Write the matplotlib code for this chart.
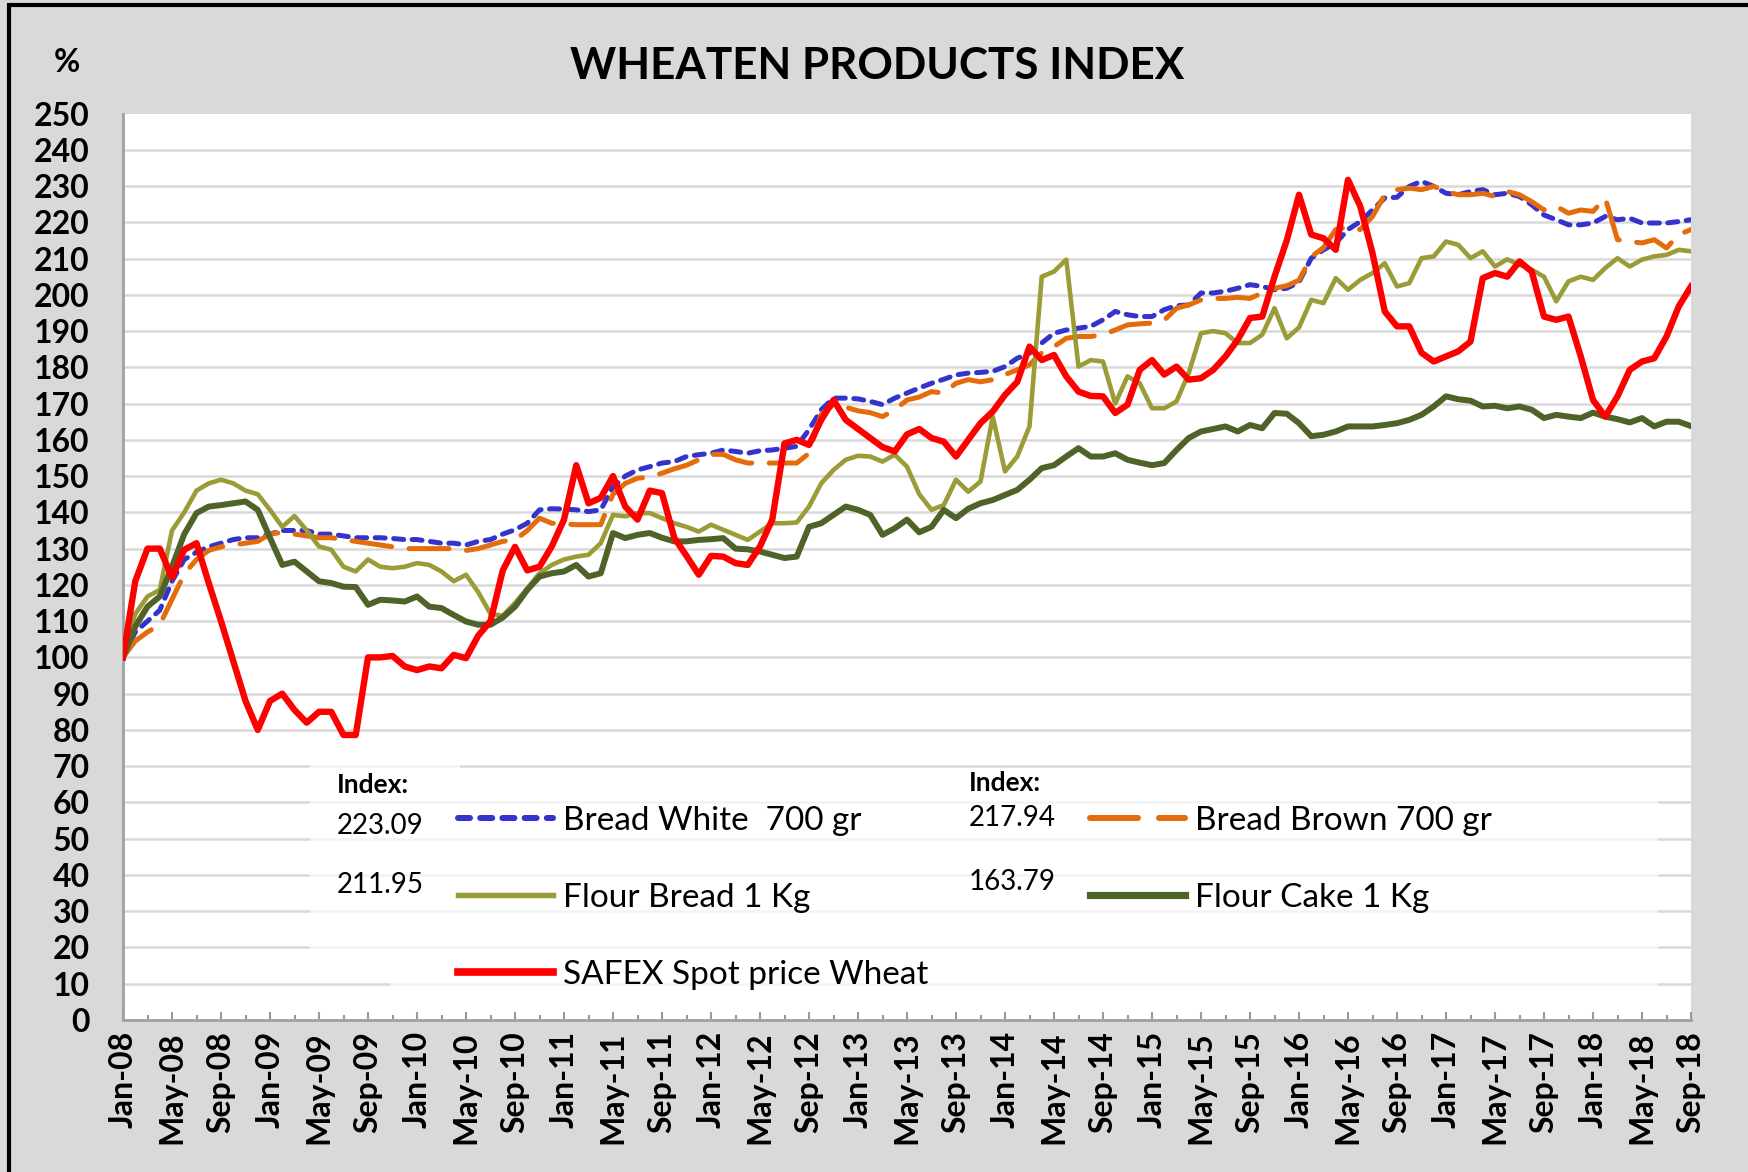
import matplotlib
matplotlib.use('Agg')
import matplotlib.pyplot as plt
from matplotlib.patches import Rectangle
import numpy as np
import pandas as pd

plt.rcParams['font.family'] = ['Lato', 'DejaVu Sans']

# Monthly index, Jan-08 = 100
months = pd.date_range('2008-01-01', '2018-09-01', freq='MS')
month_labels = [d.strftime('%b-%y') for d in months]

bread_white = [
    100, 107, 110, 113, 121, 127, 129, 130.5, 131.5, 132.5, 133, 133,
    134, 135, 135, 135, 134, 134, 133.5, 133, 133, 133, 132.8, 132.5,
    132.5, 132, 131.5, 131.5, 131, 132, 132.5, 134, 135.2, 137, 140.7, 141,
    140.9, 140.7, 140.2, 140.7, 147, 150, 151.7, 152.6, 153.6, 154, 155.4, 155.9,
    156.3, 157.2, 156.8, 156.3, 157, 157.2, 157.7, 158.2, 162.8, 168.3, 171.5, 171.5,
    171.3, 170.6, 169.7, 171.5, 172.9, 174.3, 175.6, 176.7, 177.9, 178.4, 178.6, 178.9,
    180.2, 182.5, 183.9, 186.7, 189.4, 190.3, 190.8, 191.3, 193.1, 195.4, 194.5, 194,
    194, 195.9, 197, 197.2, 200.5, 200.5, 201, 201.8, 202.8, 202.3, 201.4, 201.8,
    203.5, 210.1, 212.4, 214.3, 218, 220.2, 223.4, 226.7, 226.9, 229.9, 231.3, 229.9,
    228, 227.6, 228.5, 229, 227.6, 228, 227.1, 224.8, 222, 220.7, 219.3, 219.3,
    219.8, 221.6, 220.7, 221.1, 219.8, 219.8, 219.8, 220.2, 220.7,
]
bread_brown = [
    100, 104.5, 107, 109, 116, 123, 127, 129.5, 130.5, 131, 131.5, 132,
    134, 134.5, 134, 133.5, 133, 133, 132.5, 132, 131.5, 131, 130.5, 130,
    130, 130, 130, 130, 129.5, 130, 131, 132, 132.4, 135, 138.4, 137,
    136.8, 136.6, 136.6, 136.6, 145, 148, 149.4, 149.8, 150.8, 152, 153, 154.5,
    156, 156, 154.5, 153.6, 153.6, 153.6, 153.6, 153.6, 156.3, 167, 169.7, 169,
    168, 167.5, 166.4, 168.3, 171, 171.8, 173.3, 172.9, 175.6, 176.6, 176, 176.6,
    178, 179.3, 180.7, 184, 185.7, 188, 188.5, 188.5, 189, 190.3, 191.7, 192,
    192.2, 193, 196.3, 197.2, 198.6, 199, 199, 199.3, 199, 200.5, 201.8, 202.5,
    204, 210.5, 213, 218, 218.7, 218, 221.6, 227.6, 229, 229.4, 229, 229.9,
    228.5, 227.6, 227.6, 228, 227.1, 228.5, 227.6, 225.7, 223.4, 224.4, 222.5, 223.4,
    223, 226.7, 215.2, 214.7, 214.3, 215.2, 212.9, 216.6, 218,
]
flour_bread = [
    100, 112, 116.8, 118.6, 135, 140, 146, 148, 149, 148, 146, 145,
    140.7, 136, 139, 135, 130.6, 129.7, 125, 123.7, 127, 125, 124.6, 125,
    126, 125.5, 123.7, 121, 122.8, 118, 112, 111.5, 115, 119, 123.2, 125.5,
    127, 127.8, 128.3, 131.5, 139.3, 138.9, 139.8, 139.8, 138.4, 137, 136, 134.7,
    136.6, 135.2, 133.8, 132.4, 134.7, 137, 137, 137.2, 141.6, 148, 151.7, 154.5,
    155.6, 155.4, 154, 155.9, 152.6, 145, 140.7, 142, 149, 145.7, 148.5, 166.4,
    151.3, 155.4, 163.7, 205, 206.4, 209.7, 180.2, 182, 181.6, 170, 177.5, 175.6,
    168.7, 168.7, 170.6, 178.4, 189.4, 190, 189.4, 186.7, 186.7, 189, 196.3, 188,
    191, 198.6, 197.7, 204.6, 201.4, 204.1, 206, 208.7, 202.3, 203.2, 210.1, 210.6,
    214.7, 213.8, 210.1, 212, 207.8, 209.8, 208.3, 206.9, 205, 198.2, 203.7, 205,
    204.1, 207.4, 210.1, 207.8, 209.7, 210.6, 211, 212.4, 212,
]
flour_cake = [
    100, 108.5, 114, 116.8, 125, 134, 139.8, 141.6, 142, 142.5, 143, 140.7,
    133, 125.5, 126.4, 123.7, 121, 120.5, 119.5, 119.4, 114.5, 115.9, 115.7, 115.4,
    116.8, 114, 113.6, 111.7, 109.9, 109, 109, 111, 114, 118.6, 122.3, 123.2,
    123.7, 125.5, 122.3, 123.2, 134.3, 132.9, 133.8, 134.3, 133, 132, 132, 132.4,
    132.6, 132.9, 130, 129.8, 129.2, 128.3, 127.4, 127.8, 136, 137, 139.3, 141.6,
    140.7, 139.3, 133.8, 135.6, 138, 134.5, 136, 140.7, 138.4, 141, 142.5, 143.4,
    144.8, 146.2, 149, 152.2, 153, 155.4, 157.7, 155.4, 155.4, 156.3, 154.5, 153.7,
    153, 153.6, 157.2, 160.5, 162.3, 163, 163.7, 162.3, 164.1, 163.2, 167.4, 167.2,
    164.6, 161, 161.4, 162.3, 163.7, 163.7, 163.7, 164.1, 164.6, 165.5, 166.9, 169.2,
    172, 171.2, 170.8, 169.2, 169.4, 168.7, 169.2, 168.3, 166, 166.9, 166.4, 166,
    167.5, 166.4, 165.7, 164.8, 166, 163.7, 165, 165, 163.8,
]
safex_wheat = [
    100, 121, 130, 130, 122, 129.7, 131.5, 120.5, 110, 99, 88, 80,
    88, 90, 85.5, 82, 85, 85, 78.6, 78.6, 100, 100, 100.4, 97.5,
    96.5, 97.5, 97, 100.7, 99.8, 106, 110, 124, 130.5, 124, 125, 130.6,
    138, 153, 142.5, 144, 150, 141.6, 138, 146, 145.3, 133, 128, 122.8,
    128, 127.8, 126, 125.5, 130.6, 138, 159, 160, 158.6, 165.5, 171, 165.5,
    163, 160.5, 158, 156.8, 161.5, 163, 160.5, 159.5, 155.4, 160, 164.6, 167.8,
    172.4, 176, 185.7, 182, 183.4, 177.5, 173.3, 172.1, 172, 167.4, 169.7, 179.3,
    182, 178, 180.2, 176.6, 177, 179.3, 183, 187.6, 193.6, 194, 205, 215,
    227.6, 216.6, 215.6, 212.4, 231.7, 224.4, 211.5, 195.4, 191.3, 191.3, 184, 181.6,
    183, 184.4, 187.1, 204.6, 206, 205, 209.2, 206.4, 194, 193.1, 194, 183,
    171, 166.4, 172, 179.3, 181.6, 182.5, 188.5, 196.8, 202.3,
]

# latest index values shown beside the legend
index_white = '223.09'
index_brown = '217.94'
index_flour_bread = '211.95'
index_flour_cake = '163.79'

W, H = 1748, 1172
X0, X1, Y0, Y1 = 123, 1691, 113.5, 1020   # plot area in pixels

fig = plt.figure(figsize=(W / 100, H / 100), dpi=100, facecolor='#D9D9D9')
ax = fig.add_axes([X0 / W, 1 - Y1 / H, (X1 - X0) / W, (Y1 - Y0) / H])


def axp(px, py):
    # pixel position -> axes fraction
    return ((px - X0) / (X1 - X0), (Y1 - py) / (Y1 - Y0))


x = np.arange(len(months))
l_white, = ax.plot(x, bread_white, color='#3434CC', lw=3.6, dashes=(2.0, 1.7),
                   dash_capstyle='round', label='Bread White  700 gr', zorder=3)
l_brown, = ax.plot(x, bread_brown, color='#E46C0A', lw=3.6, dashes=(8, 3.5),
                   dash_capstyle='round', label='Bread Brown 700 gr', zorder=3.1)
l_fbread, = ax.plot(x, flour_bread, color='#9B9B38', lw=3.3,
                    label='Flour Bread 1 Kg', zorder=3.2)
l_cake, = ax.plot(x, flour_cake, color='#4F6228', lw=4.3,
                  label='Flour Cake 1 Kg', zorder=3.3)
l_safex, = ax.plot(x, safex_wheat, color='#FF0000', lw=4.6,
                   label='SAFEX Spot price Wheat', zorder=3.4)

ax.set_facecolor('white')
ax.set_xlim(0, len(months) - 1)
ax.set_ylim(0, 250)

# y axis
ax.set_yticks(range(0, 251, 10))
ax.set_yticklabels([str(v) for v in range(0, 251, 10)], fontsize=23, fontweight='bold')
ax.tick_params(axis='y', length=0, pad=24)
ax.set_axisbelow(True)
ax.grid(axis='y', color='#D9D9D9', lw=1.8)
ax.yaxis.get_gridlines()[-1].set_visible(False)

# x axis
ax.set_xticks(x[::4])
ax.set_xticklabels(month_labels[::4], rotation=90, fontsize=23, fontweight='bold')
ax.set_xticks(x[2::4], minor=True)
ax.tick_params(axis='x', which='major', direction='in', length=6, width=1.5,
               color='#999999', pad=8)
ax.tick_params(axis='x', which='minor', direction='in', length=3.5, width=1.5,
               color='#999999')

for s in ['top', 'right']:
    ax.spines[s].set_visible(False)
for s in ['left', 'bottom']:
    ax.spines[s].set_color('#A0A0A0')
    ax.spines[s].set_linewidth(2)

# faint white boxes behind the legend block
for (px0, py0, px1, py1) in [(310, 755, 460, 960), (460, 770, 1658, 996), (390, 960, 460, 996)]:
    bx, by = axp(px0, py1)
    bw = (px1 - px0) / (X1 - X0)
    bh = (py1 - py0) / (Y1 - Y0)
    ax.add_patch(Rectangle((bx, by), bw, bh, transform=ax.transAxes,
                           facecolor='white', edgecolor='none', alpha=0.7, zorder=1.5))

leg_kw = dict(loc='upper left', frameon=False, fontsize=24, handlelength=2.85,
              handletextpad=0.3, labelspacing=1.41, borderpad=0, borderaxespad=0)
leg1 = ax.legend(handles=[l_white, l_fbread, l_safex], bbox_to_anchor=axp(458, 806), **leg_kw)
leg1.set_zorder(6)
ax.add_artist(leg1)
leg2 = ax.legend(handles=[l_brown, l_cake], bbox_to_anchor=axp(1090, 806), **leg_kw)
leg2.set_zorder(6)
for leg in (leg1, leg2):
    for h in leg.get_lines():
        h.set_linewidth(h.get_linewidth() * 1.2)

txt_kw = dict(transform=ax.transAxes, ha='left', va='center', zorder=6)
ax.text(*axp(337, 785), 'Index:', fontsize=19, fontweight='bold', **txt_kw)
ax.text(*axp(337, 826), index_white, fontsize=20, **txt_kw)
ax.text(*axp(337, 885), index_flour_bread, fontsize=20, **txt_kw)
ax.text(*axp(969, 783), 'Index:', fontsize=19, fontweight='bold', **txt_kw)
ax.text(*axp(969, 818), index_brown, fontsize=20, **txt_kw)
ax.text(*axp(969, 882), index_flour_cake, fontsize=20, **txt_kw)

fig.text(877 / W, 1 - 66 / H, 'WHEATEN PRODUCTS INDEX', ha='center', va='center',
         fontsize=31.7, fontweight='bold')
fig.text(67 / W, 1 - 63 / H, '%', ha='center', va='center', fontsize=23, fontweight='bold')

# black frame round the chart
fig.add_artist(Rectangle((9 / W, -0.05), 1.2, 1.05 - 5 / H, transform=fig.transFigure,
                         fill=False, edgecolor='black', lw=3))

fig.savefig('out.png', dpi=100, facecolor=fig.get_facecolor())
